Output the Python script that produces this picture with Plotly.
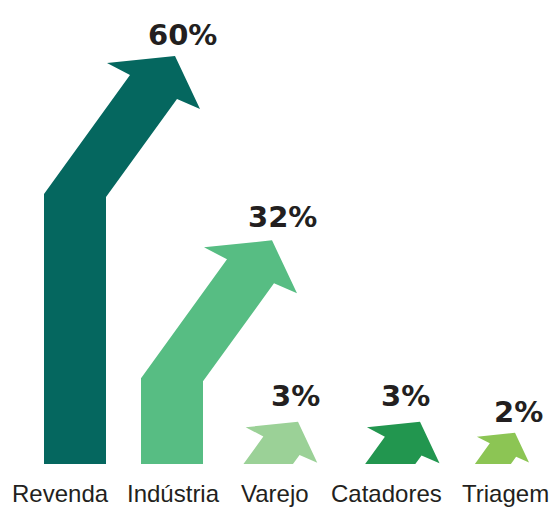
import plotly.graph_objects as go

# ---- data ----
categories = ["Revenda", "Indústria", "Varejo", "Catadores", "Triagem"]
shares = [60, 32, 3, 3, 2]                     # printed percentages
arrow_height = [60.0, 32.9, 6.2, 6.2, 4.6]      # drawn arrow tip height (axis units)
colors = ["#05675f", "#57bd83", "#9bd197", "#22964f", "#8cc554"]

# ---- layout / style constants ----
W, H = 551, 507
BASE_PX = 464                 # pixel row of the baseline
PX_PER_UNIT = 6.8             # vertical pixels per axis unit
LABEL_X = [60, 173, 275, 386, 505]     # category label centres (x axis = pixels)
TIP_X = [175, 272, 298, 420, 515]      # arrow tip x
SCALE = [1.0, 1.0, 0.77, 0.78, 0.56]   # arrow size
PCT_DX = [7, 10, -3, -15, 3]           # label x shift from tip
PCT_DY = [21, 23, 26, 26, 21]          # label y shift above tip (px)

# generic arrow outline, offsets from the tip in px (dy positive = downwards)
ARROW = [(0, 0), (25, 53), (2, 43), (-69, 141), (-69, 2000),
         (-131, 2000), (-131, 138), (-45, 19), (-68, 7), (0, 0)]

fig = go.Figure()
for i, cat in enumerate(categories):
    s = SCALE[i]
    xs = [TIP_X[i] + dx * s for dx, dy in ARROW]
    ys = [arrow_height[i] - dy * s / PX_PER_UNIT for dx, dy in ARROW]
    fig.add_trace(go.Scatter(x=xs, y=ys, mode="lines", fill="toself",
                             fillcolor=colors[i], line=dict(width=0, color=colors[i]),
                             hoverinfo="skip", showlegend=False, name=cat))

annotations = []
for i, v in enumerate(shares):
    annotations.append(dict(
        x=TIP_X[i], y=arrow_height[i], xref="x", yref="y",
        text=f"{v}%", showarrow=False, xanchor="center", yanchor="middle",
        xshift=PCT_DX[i], yshift=PCT_DY[i],
        font=dict(family="DejaVu Sans", size=29, color="#231f20", weight="bold")))
    annotations.append(dict(
        x=LABEL_X[i], y=0, xref="x", yref="y",
        text=categories[i], showarrow=False, xanchor="center", yanchor="middle",
        yshift=-(493 - BASE_PX),
        font=dict(family="Liberation Sans", size=24, color="#231f20")))

fig.update_layout(
    width=W, height=H,
    margin=dict(l=0, r=0, t=0, b=H - BASE_PX, pad=0),
    paper_bgcolor="white", plot_bgcolor="white",
    xaxis=dict(range=[0, W], visible=False, fixedrange=True),
    yaxis=dict(range=[0, BASE_PX / PX_PER_UNIT], visible=False, fixedrange=True),
    annotations=annotations,
    showlegend=False,
)

fig.write_html("out.html")
